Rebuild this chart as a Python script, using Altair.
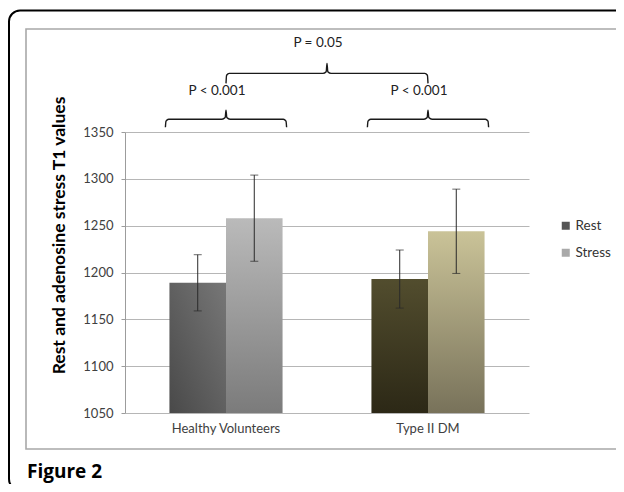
import altair as alt
import pandas as pd

# ---------------- data ----------------
groups = ["Healthy Volunteers", "Type II DM"]
series = ["Rest", "Stress"]
rest_mean = [1189, 1193]
stress_mean = [1258, 1244]
rest_err = [30, 31]
stress_err = [46, 45]
y_ticks = [1050, 1100, 1150, 1200, 1250, 1300, 1350]
within_labels = ["P < 0.001", "P < 0.001"]
between_label = "P = 0.05"
figure_label = "Figure 2"
y_title = "Rest and adenosine stress T1 values"

# ---------------- styles ----------------
legend_colors = ["#555555", "#a9a9a9"]
bar_gradients = {
    ("Healthy Volunteers", "Rest"): ("#777777", "#494949", True),
    ("Healthy Volunteers", "Stress"): ("#bababa", "#7b7b7b", False),
    ("Type II DM", "Rest"): ("#524d2e", "#2c2816", False),
    ("Type II DM", "Stress"): ("#cac398", "#78725a", False),
}
W, H = 404, 281
Y0, Y1 = 1050, 1350
FONT = "Lato"

rows = []
for i, g in enumerate(groups):
    rows.append(dict(group=g, series="Rest", mean=rest_mean[i],
                     lo=rest_mean[i] - rest_err[i], hi=rest_mean[i] + rest_err[i]))
    rows.append(dict(group=g, series="Stress", mean=stress_mean[i],
                     lo=stress_mean[i] - stress_err[i], hi=stress_mean[i] + stress_err[i]))
df = pd.DataFrame(rows)

yscale = alt.Scale(domain=[Y0, Y1], nice=False, zero=False)
yaxis = alt.Axis(values=y_ticks, format="d", title=y_title, grid=True, domain=True,
                 tickSize=4, labelPadding=8, labelFontSize=13,
                 titleFontSize=17.5, titleFontWeight="bold", titleColor="black",
                 titleX=-66, titleY=103, titleAngle=270, titleAlign="center",
                 titleBaseline="middle")
xscale = alt.Scale(domain=groups, paddingInner=0.44, paddingOuter=0.22)
xaxis = alt.Axis(title=None, ticks=False, domain=False, grid=False, labelPadding=9,
                 labelAngle=0, labelFontSize=13)
xenc = alt.X("group:N", sort=groups, scale=xscale, axis=xaxis)
xoff = alt.XOffset("series:N", sort=series,
                   scale=alt.Scale(domain=series, paddingInner=0, paddingOuter=0))


def grad(top, bottom, diag):
    return alt.LinearGradient(
        gradient="linear",
        stops=[alt.GradientStop(color=top, offset=0), alt.GradientStop(color=bottom, offset=1)],
        x1=1 if diag else 0, y1=0, x2=0, y2=1)


bar_layers = []
for (g, s), (top, bottom, diag) in bar_gradients.items():
    bar_layers.append(
        alt.Chart(df).transform_filter(
            (alt.datum.group == g) & (alt.datum.series == s)
        ).mark_bar(color=grad(top, bottom, diag)).encode(
            x=xenc, xOffset=xoff,
            y=alt.Y("mean:Q", scale=yscale, axis=yaxis),
            y2=alt.datum(Y0),
        )
    )

err_rule = alt.Chart(df).mark_rule(color="#2a2a2a", strokeWidth=1).encode(
    x=xenc, xOffset=xoff,
    y=alt.Y("lo:Q", scale=yscale, axis=yaxis), y2="hi:Q")
err_caps = alt.Chart(df).transform_fold(["lo", "hi"], as_=["end", "val"]).mark_tick(
    color="#2a2a2a", thickness=1, size=8, orient="horizontal").encode(
    x=xenc, xOffset=xoff, y=alt.Y("val:Q", scale=yscale, axis=yaxis))

legend_layer = alt.Chart(df).mark_square(size=64, opacity=1, clip=True).encode(
    x=xenc, xOffset=xoff,
    y=alt.datum(Y0 - 100),
    color=alt.Color("series:N", sort=series,
                    scale=alt.Scale(domain=series, range=legend_colors),
                    legend=alt.Legend(title=None, orient="none", legendX=434, legendY=87,
                                      symbolType="square", symbolSize=64,
                                      symbolStrokeWidth=0, labelFont=FONT,
                                      labelFontSize=13.5, labelColor="#333333",
                                      rowPadding=12, labelOffset=3)))

bars = alt.layer(*bar_layers, err_rule, err_caps, legend_layer)

# ---------------- significance braces ----------------
def brace(x0, x1, yl, drop, rise, cid):
    xc = (x0 + x1) / 2
    pts = [(x0, yl - drop), (x0 + 0.0015, yl - 2.0), (x0 + 0.008, yl),
           (xc - 0.01, yl), (xc - 0.002, yl + 1.8), (xc, yl + rise),
           (xc + 0.002, yl + 1.8), (xc + 0.01, yl),
           (x1 - 0.008, yl), (x1 - 0.0015, yl - 2.0), (x1, yl - drop)]
    return [dict(cid=cid, i=k, bx=p[0], by=p[1]) for k, p in enumerate(pts)]


brace_rows, text_rows = [], []
for i, lab in enumerate(within_labels):
    c = (2 * i + 1) / 4
    brace_rows += brace(c - 0.15, c + 0.15, 1363.6, 8.5, 9.6, f"w{i}")
    text_rows.append(dict(bx=c, by=1393.5, label=lab))
brace_rows += brace(0.25, 0.75, 1412.6, 10.7, 10.7, "b")
text_rows.append(dict(bx=0.5, by=1444.7, label=between_label))

bxscale = alt.Scale(domain=[0, 1], nice=False, zero=False)
brace_lines = alt.Chart(pd.DataFrame(brace_rows)).mark_line(
    color="#1a1a1a", strokeWidth=1.4, interpolate="monotone", clip=False).encode(
    x=alt.X("bx:Q", scale=bxscale, axis=None),
    y=alt.Y("by:Q", scale=yscale, axis=yaxis),
    detail="cid:N", order="i:Q")
brace_text = alt.Chart(pd.DataFrame(text_rows)).mark_text(
    font=FONT, fontSize=13.5, color="#222222", dx=-9, baseline="middle").encode(
    x=alt.X("bx:Q", scale=bxscale, axis=None),
    y=alt.Y("by:Q", scale=yscale, axis=yaxis),
    text="label:N")
braces = alt.layer(brace_lines, brace_text)

# ---------------- frames and figure label ----------------
one = pd.DataFrame({"k": [0]})
outer = alt.Chart(one).mark_rect(fillOpacity=0, stroke="black", strokeWidth=2,
                                 cornerRadius=11).encode(
    x=alt.value(-116), x2=alt.value(520), y=alt.value(-121.5), y2=alt.value(358))
inner = alt.Chart(one).mark_rect(fillOpacity=0, stroke="#a8a8a8", strokeWidth=1.6).encode(
    x=alt.value(-99), x2=alt.value(495), y=alt.value(-103), y2=alt.value(317))
fig_text = alt.Chart(one).mark_text(
    text=figure_label, font="Open Sans", fontWeight="bold", fontSize=19,
    align="left", baseline="alphabetic", color="black").encode(
    x=alt.value(-98), y=alt.value(346))

chart = alt.layer(outer, inner, bars, braces, fig_text).resolve_scale(
    x="independent"
).properties(
    width=W, height=H,
    autosize=alt.AutoSizeParams(type="none"),
    padding={"left": 117, "top": 124, "right": 87, "bottom": 71},
    background="white",
).configure_view(stroke=None).configure_axis(
    labelFont=FONT, labelColor="#404040", titleFont=FONT,
    gridColor="#b6b6b6", gridWidth=1, domainColor="#9c9c9c", tickColor="#9c9c9c",
)

chart.save("out.html", embed_options={"renderer": "svg", "actions": False})
